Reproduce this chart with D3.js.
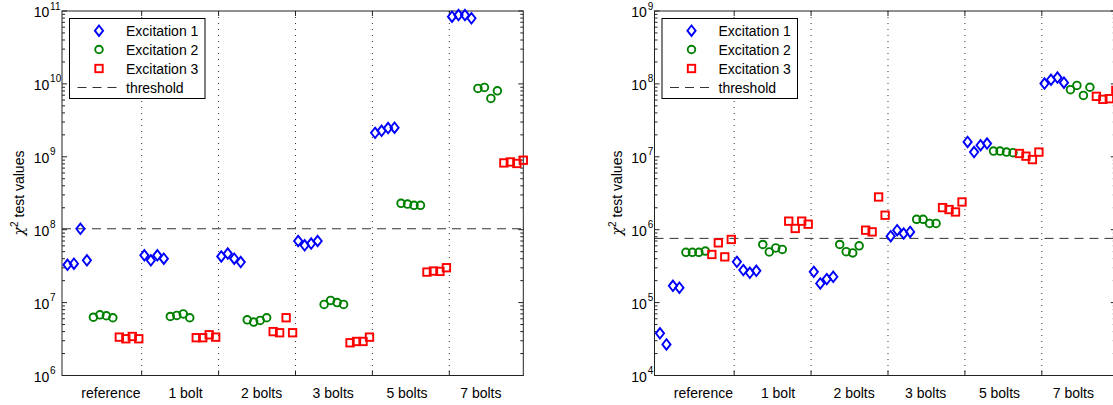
<!DOCTYPE html>
<html><head><meta charset="utf-8">
<script src="https://cdn.jsdelivr.net/npm/d3@7"></script>
<style>body{margin:0;background:#fff}svg{display:block}text{font-family:"Liberation Sans",Arial,Helvetica,sans-serif;fill:#000}</style>
</head><body>
<svg id="c" width="1113" height="405"></svg>
<script>
// ---- data ----
const groups = ["reference", "1 bolt", "2 bolts", "3 bolts", "5 bolts", "7 bolts"];
const groupLabelPos = [0.6, 1.57, 2.56, 3.49, 4.45, 5.41];
const seriesNames = ["Excitation 1", "Excitation 2", "Excitation 3"];
// left panel
const exc1A = [[3.3e7,3.42e7,1.03e8,3.8e7],[4.45e7,3.8e7,4.45e7,4.0e7],[4.3e7,4.7e7,4.0e7,3.6e7],[7.0e7,6.1e7,6.45e7,7.0e7],[2.13e9,2.27e9,2.48e9,2.51e9],[8.35e10,8.8e10,8.8e10,7.95e10]];
const exc2A = [[6.3e6,6.8e6,6.6e6,6.2e6],[6.45e6,6.67e6,7.0e6,6.2e6],[5.8e6,5.4e6,5.7e6,6.2e6],[9.45e6,1.07e7,1.0e7,9.45e6],[2.3e8,2.25e8,2.16e8,2.16e8],[8.67e9,8.95e9,6.32e9,8.04e9]];
const exc3A = [[3.36e6,3.19e6,3.43e6,3.19e6],[3.3e6,3.3e6,3.62e6,3.36e6],[4.0e6,3.86e6,6.2e6,3.86e6],[2.81e6,2.93e6,2.93e6,3.36e6],[2.62e7,2.71e7,2.68e7,3.01e7],[8.24e8,8.5e8,8.1e8,8.98e8]];
const thresholdA = 1.03e8;
const yDomainA = [1e6, 1e11];
// right panel
const exc1B = [[3.79e4,2.67e4,1.7e5,1.6e5],[3.62e5,2.79e5,2.56e5,2.73e5],[2.64e5,1.83e5,2.1e5,2.26e5],[8.15e5,9.85e5,8.87e5,9.33e5],[1.6e7,1.16e7,1.44e7,1.52e7],[1.01e8,1.14e8,1.22e8,1.04e8]];
const exc2B = [[4.9e5,4.9e5,4.9e5,5.1e5],[6.27e5,4.96e5,5.63e5,5.36e5],[6.27e5,5.0e5,4.8e5,6.0e5],[1.39e6,1.39e6,1.22e6,1.22e6],[1.2e7,1.2e7,1.16e7,1.14e7],[8.34e7,9.53e7,6.95e7,9.0e7]];
const exc3B = [[4.57e5,6.6e5,4.24e5,7.35e5],[1.31e6,1.04e6,1.31e6,1.19e6],[9.85e5,9.33e5,2.81e6,1.58e6],[2.01e6,1.89e6,1.75e6,2.4e6],[1.11e7,1.02e7,9.16e6,1.16e7],[6.75e7,6.14e7,6.27e7,8.15e7]];
const thresholdB = 7.6e5;
const yDomainB = [1e4, 1e9];

const colors = ["#0000ff", "#008000", "#ff0000"];
const shapes = ["diamond", "circle", "square"];

const svg = d3.select("#c");

function marker(g, shape, color, x, y) {
  if (shape === "diamond") {
    g.append("path").attr("d", `M${x},${y-5.2}L${x+4.1},${y}L${x},${y+5.2}L${x-4.1},${y}Z`)
      .attr("fill", "none").attr("stroke", color).attr("stroke-width", 1.9);
  } else if (shape === "circle") {
    g.append("circle").attr("cx", x).attr("cy", y).attr("r", 3.8)
      .attr("fill", "none").attr("stroke", color).attr("stroke-width", 1.9);
  } else {
    g.append("rect").attr("x", x-3.7).attr("y", y-3.7).attr("width", 7.4).attr("height", 7.4)
      .attr("fill", "none").attr("stroke", color).attr("stroke-width", 1.9);
  }
}

function panel(cfg) {
  const g = svg.append("g");
  const x = d3.scaleLinear().domain([-0.036, 5.962]).range([cfg.x0, cfg.x1]);
  const y = d3.scaleLog().domain(cfg.yDomain).range([375.5, 11]);
  const top = 11, bot = 375.5;
  // vertical dotted grid
  g.selectAll(".grid").data([1,2,3,4,5]).enter().append("line")
    .attr("x1", d => x(d)).attr("x2", d => x(d)).attr("y1", top).attr("y2", bot)
    .attr("stroke", "#333").attr("stroke-width", 1).attr("stroke-dasharray", "1,5");
  // x ticks (inward, top & bottom)
  [1,2,3,4,5].forEach(d => {
    g.append("line").attr("x1", x(d)).attr("x2", x(d)).attr("y1", bot).attr("y2", bot-5).attr("stroke", "#222");
    g.append("line").attr("x1", x(d)).attr("x2", x(d)).attr("y1", top).attr("y2", top+5).attr("stroke", "#222");
  });
  // y ticks
  const e0 = Math.log10(cfg.yDomain[0]), e1 = Math.log10(cfg.yDomain[1]);
  for (let e = e0; e <= e1; e++) {
    const yy = y(Math.pow(10, e));
    [[cfg.x0, 1], [cfg.x1, -1]].forEach(([xx, s]) => {
      g.append("line").attr("x1", xx).attr("x2", xx + s*5).attr("y1", yy).attr("y2", yy).attr("stroke", "#222");
    });
    g.append("text").attr("x", cfg.x0 - cfg.lblOff).attr("y", yy + 6).attr("text-anchor", "end")
      .attr("font-size", 14).text("10");
    g.append("text").attr("x", cfg.x0 - cfg.lblOff + 0.8).attr("y", yy - 1.5).attr("text-anchor", "start")
      .attr("font-size", 10).text(String(e));
    if (e < e1) {
      for (let m = 2; m <= 9; m++) {
        const ym = y(m * Math.pow(10, e));
        [[cfg.x0, 1], [cfg.x1, -1]].forEach(([xx, s]) => {
          g.append("line").attr("x1", xx).attr("x2", xx + s*3).attr("y1", ym).attr("y2", ym).attr("stroke", "#222");
        });
      }
    }
  }
  // threshold
  g.append("line").attr("x1", cfg.x0).attr("x2", cfg.x1).attr("y1", y(cfg.threshold)).attr("y2", y(cfg.threshold))
    .attr("stroke", "#333").attr("stroke-width", 1).attr("stroke-dasharray", "9,6");
  // frame
  g.append("rect").attr("x", cfg.x0).attr("y", top).attr("width", cfg.x1 - cfg.x0).attr("height", bot - top)
    .attr("fill", "none").attr("stroke", "#222").attr("stroke-width", 1);
  // group labels
  g.selectAll(".gl").data(groups).enter().append("text")
    .attr("x", (d, i) => x(groupLabelPos[i])).attr("y", 397.5).attr("text-anchor", "middle")
    .attr("font-size", 14).text(d => d);
  // markers
  cfg.series.forEach((ser, s) => {
    ser.forEach((vals, gi) => {
      vals.forEach((v, k) => {
        const j = s * 4 + k;
        marker(g, shapes[s], colors[s], x(gi + 0.035 + j * 0.0843), y(v));
      });
    });
  });
  // y label
  const yl = g.append("text").attr("transform", `translate(${cfg.ylabX},193) rotate(-90)`)
    .attr("text-anchor", "middle").attr("font-size", 14);
  yl.append("tspan").attr("font-style", "italic").attr("font-family", "DejaVu Serif, serif").text("χ");
  yl.append("tspan").attr("font-size", 10).attr("dy", -6).text("2");
  yl.append("tspan").attr("dy", 6).text(" test values");
  // legend
  const lg = g.append("g");
  const lx = cfg.x0 + 7.5, ly = 18.5, lw = 135.5, lh = 80;
  lg.append("rect").attr("x", lx).attr("y", ly).attr("width", lw).attr("height", lh)
    .attr("fill", "#fff").attr("stroke", "#000").attr("stroke-width", 1);
  const rowY = [30.7, 49.5, 68.5, 87.5];
  seriesNames.forEach((n, i) => {
    marker(lg, shapes[i], colors[i], lx + 29.5, rowY[i]);
    lg.append("text").attr("x", lx + 56.5).attr("y", rowY[i] + 5).attr("font-size", 14).text(n);
  });
  lg.append("line").attr("x1", lx + 8).attr("x2", lx + 50).attr("y1", rowY[3]).attr("y2", rowY[3])
    .attr("stroke", "#333").attr("stroke-dasharray", "9,6");
  lg.append("text").attr("x", lx + 56.5).attr("y", rowY[3] + 5).attr("font-size", 14).text("threshold");
}

panel({x0: 62, x1: 523.3, yDomain: yDomainA, threshold: thresholdA, series: [exc1A, exc2A, exc3A], lblOff: 12.7, ylabX: 23.5});
panel({x0: 654.5, x1: 1115.8, yDomain: yDomainB, threshold: thresholdB, series: [exc1B, exc2B, exc3B], lblOff: 7.6, ylabX: 621.5});
</script>
</body></html>
